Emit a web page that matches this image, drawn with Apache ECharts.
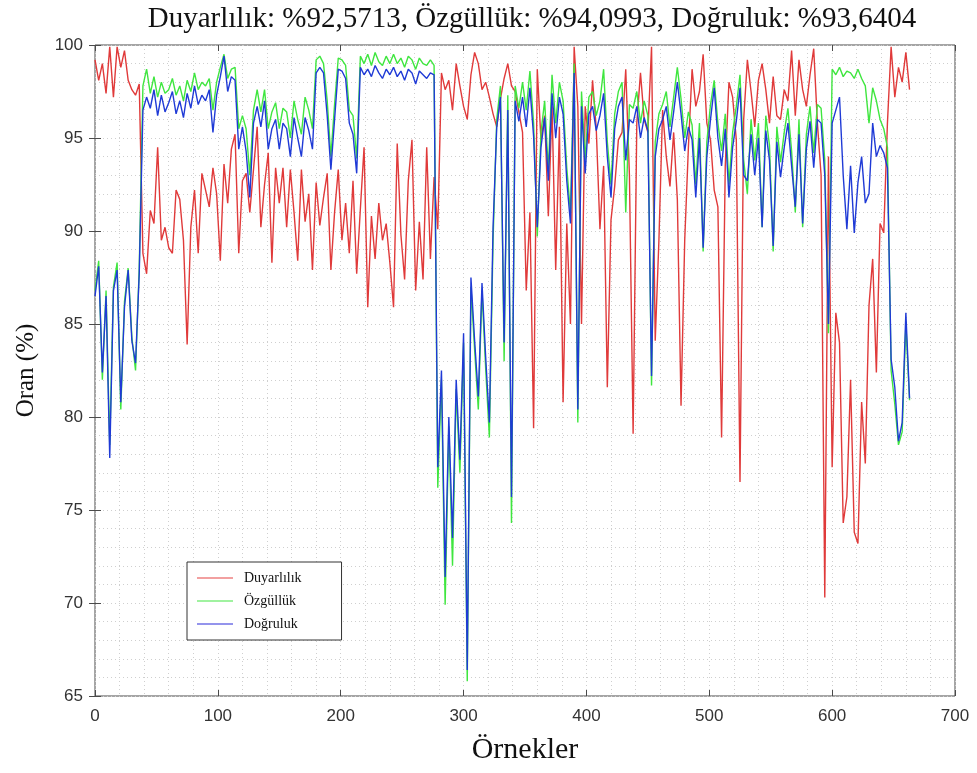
<!DOCTYPE html>
<html>
<head>
<meta charset="utf-8">
<script src="https://cdn.jsdelivr.net/npm/echarts@6/dist/echarts.min.js"></script>
<style>
  html, body { margin: 0; padding: 0; background: #fff; }
  #chart { width: 977px; height: 773px; }
</style>
</head>
<body>
<div id="chart"></div>
<script>
// Every third sample of the evaluation run (sample index = position * STEP)
const STEP = 3;

const seriesNames = ['Duyarlılık', 'Özgüllük', 'Doğruluk'];
const seriesColors = ['#e03a3a', '#3fe63f', '#1f3ad6'];
const legendColors = ['#ee8080', '#80ee80', '#7070e6'];

const xTickLabels = [0, 100, 200, 300, 400, 500, 600, 700];
const yTickLabels = [65, 70, 75, 80, 85, 90, 95, 100];

// Duyarlılık (%) per sample
const duyarlilik = [
  99.2, 98.1, 99.0, 97.4, 99.9, 97.2, 99.9, 98.8, 99.7, 98.1,
  97.6, 97.3, 97.9, 88.8, 87.7, 91.1, 90.4, 94.5, 89.5, 90.2,
  89.1, 88.8, 92.2, 91.7, 89.5, 83.9, 90.2, 92.2, 88.8, 93.1,
  92.2, 91.3, 93.4, 92.0, 88.4, 93.6, 91.5, 94.4, 95.2, 88.8,
  92.7, 93.1, 91.0, 93.3, 95.6, 90.2, 92.5, 94.2, 88.3, 93.4,
  91.5, 93.4, 90.2, 93.3, 91.0, 88.4, 93.3, 90.5, 92.0, 87.9,
  92.6, 90.3, 91.8, 93.1, 87.9, 91.0, 93.3, 89.5, 91.5, 88.8,
  92.7, 87.7, 91.2, 94.5, 85.9, 90.8, 88.5, 91.5, 89.5, 90.4,
  88.3, 85.9, 94.7, 89.8, 87.4, 92.7, 94.9, 86.8, 90.5, 87.4,
  94.5, 88.5, 92.9, 90.1, 98.5, 97.6, 98.1, 96.5, 99.0, 97.8,
  96.7, 96.0, 98.4, 99.6, 99.0, 97.6, 98.0, 97.2, 96.3, 95.6,
  97.1, 98.2, 99.0, 97.8, 97.5, 96.4, 95.3, 86.8, 91.0, 79.4,
  98.7, 94.9, 96.2, 90.8, 96.7, 87.9, 95.6, 80.8, 90.4, 85.0,
  99.9, 96.7, 85.0, 96.7, 94.7, 98.1, 95.5, 90.1, 93.5, 81.6,
  90.6, 92.4, 94.9, 95.3, 98.7, 93.0, 79.1, 95.8, 98.5, 96.0,
  95.3, 99.9, 84.1, 89.5, 96.5, 94.0, 92.4, 95.3, 91.7, 80.6,
  89.5, 94.5, 98.7, 96.7, 97.5, 99.5, 95.8, 94.9, 92.2, 91.3,
  78.9, 93.5, 98.0, 97.2, 94.9, 76.5, 96.0, 99.2, 97.5, 95.6,
  98.1, 99.0, 97.6, 95.8, 98.3, 96.2, 96.0, 97.6, 97.0, 99.7,
  96.2, 99.2, 97.6, 96.7, 98.4, 99.8, 95.8, 93.0, 70.3, 94.0,
  77.3, 85.6, 84.0, 74.3, 75.7, 82.0, 73.8, 73.2, 80.8, 77.5,
  86.0, 88.5, 82.4, 90.4, 89.9, 95.8, 99.9, 97.2, 98.8, 98.0,
  99.6, 97.6
];

// Özgüllük (%) per sample
const ozgulluk = [
  86.8, 88.4, 82.0, 86.8, 78.5, 87.0, 88.3, 80.4, 86.2, 88.0,
  84.3, 82.5, 88.0, 97.8, 98.7, 97.4, 98.3, 97.2, 98.0, 97.4,
  97.6, 98.2, 97.3, 97.8, 97.0, 98.1, 97.5, 98.5, 97.6, 98.0,
  97.8, 98.2, 96.5, 98.0, 98.8, 99.5, 98.2, 98.7, 98.8, 95.5,
  96.2, 95.5, 93.0, 96.5, 97.6, 96.4, 97.6, 95.5, 96.4, 96.9,
  95.5, 96.6, 96.4, 95.0, 97.0, 96.0, 95.2, 97.2, 96.5, 95.5,
  99.2, 99.4, 99.0, 97.0, 94.0, 96.8, 99.3, 99.2, 98.9, 96.5,
  96.2, 93.9, 99.4, 99.0, 99.5, 98.9, 99.6, 99.1, 98.9, 99.4,
  99.0, 99.5, 99.0, 99.3, 98.8, 99.4, 99.2, 98.7, 99.3, 99.0,
  98.9, 99.2, 98.9, 76.2, 82.0, 69.9, 79.5, 72.0, 81.5, 77.0,
  84.0, 65.8, 87.0, 83.6, 80.4, 86.8, 82.6, 78.9, 89.5, 96.0,
  97.8, 83.0, 97.3, 74.3, 97.8, 96.6, 98.0, 96.5, 98.6, 95.8,
  89.7, 95.3, 97.0, 93.2, 98.4, 95.8, 98.0, 97.0, 93.4, 91.0,
  99.0, 79.7, 97.5, 93.8, 97.2, 97.5, 96.2, 97.0, 98.7, 94.8,
  92.5, 96.3, 97.5, 98.0, 91.0, 96.8, 96.6, 97.5, 95.8, 97.0,
  96.2, 81.7, 94.8, 96.3, 96.8, 97.5, 95.6, 97.2, 98.8, 97.1,
  95.0, 96.4, 95.7, 92.5, 95.8, 88.9, 94.8, 96.8, 98.1, 95.8,
  94.3, 96.3, 92.5, 95.3, 96.7, 98.4, 93.8, 92.0, 96.0, 93.8,
  95.8, 90.2, 96.2, 94.6, 88.9, 95.6, 93.7, 95.3, 96.6, 94.3,
  91.0, 96.0, 90.2, 95.2, 96.7, 94.2, 96.8, 96.6, 93.8, 84.5,
  98.7, 98.4, 98.8, 98.3, 98.6, 98.5, 98.2, 98.7, 98.2, 97.8,
  95.8, 97.7, 97.0, 96.0, 95.5, 94.5, 82.5, 80.7, 78.5, 79.2,
  85.0, 80.9
];

// Doğruluk (%) per sample
const dogruluk = [
  86.5, 88.1, 82.4, 86.5, 77.8, 86.8, 87.9, 80.8, 85.9, 87.9,
  84.1, 82.9, 87.7, 96.5, 97.2, 96.6, 97.6, 96.2, 97.3, 96.4,
  96.9, 97.5, 96.3, 97.0, 96.1, 97.4, 96.6, 97.8, 96.8, 97.3,
  97.0, 97.6, 95.3, 97.3, 98.3, 99.4, 97.5, 98.3, 98.1, 94.4,
  95.6, 94.3, 91.8, 95.8, 96.7, 95.6, 97.0, 94.4, 95.5, 96.0,
  94.4, 95.8, 95.5, 94.0, 96.1, 95.0, 94.0, 96.1, 95.4, 94.4,
  98.5, 98.8, 98.5, 96.2, 93.3, 96.0, 98.7, 98.6, 98.2, 95.8,
  95.2, 93.1, 98.8, 98.4, 98.7, 98.3, 98.9, 98.5, 98.2, 98.7,
  98.4, 98.8, 98.3, 98.6, 98.1, 98.7, 98.5, 97.9, 98.6, 98.4,
  98.2, 98.5, 98.4, 77.3, 82.5, 71.4, 80.0, 73.5, 82.0, 77.7,
  84.5, 66.4, 87.5, 84.1, 81.1, 87.2, 83.2, 79.7, 90.2, 95.6,
  97.2, 84.0, 96.5, 75.7, 97.0, 95.9, 97.2, 95.6, 97.7, 95.1,
  90.2, 94.5, 96.1, 92.7, 97.4, 95.0, 97.2, 96.3, 92.7, 90.4,
  98.5, 80.4, 96.7, 93.1, 96.3, 96.7, 95.4, 96.2, 97.4, 94.0,
  91.8, 95.5, 96.7, 97.2, 93.8, 96.0, 95.8, 96.7, 95.0, 96.1,
  95.4, 82.2, 94.0, 95.5, 96.0, 96.7, 94.9, 96.4, 98.0, 96.3,
  94.3, 95.6, 94.9, 91.8, 95.0, 89.1, 94.0, 96.0, 97.7, 95.0,
  93.5, 95.5, 91.8, 94.5, 95.9, 97.7, 93.0, 92.7, 95.2, 93.0,
  95.0, 90.2, 95.4, 93.8, 89.2, 94.8, 92.9, 94.5, 95.8, 93.5,
  91.3, 95.2, 90.4, 94.4, 95.9, 93.4, 96.0, 95.8, 93.0, 85.0,
  95.8, 96.5, 97.2, 93.0, 90.1, 93.5, 89.9, 92.6, 94.0, 91.5,
  92.0, 95.8, 94.0, 94.6, 94.2, 93.4, 83.1, 81.6, 78.7, 79.7,
  85.6, 81.0
];

const titleText = 'Duyarlılık: %92,5713, Özgüllük: %94,0993, Doğruluk: %93,6404';

const toPoints = vals => vals.map((v, i) => [i * STEP, v]);
const values = [duyarlilik, ozgulluk, dogruluk];

const serif = 'Liberation Serif, Times New Roman, serif';
const sans = 'Liberation Sans, Arial, sans-serif';
const gridDots = { color: '#cfcfcf', width: 1, type: [1, 3] };
// thin horizontal bar used as the legend key
const legendLine = 'path://M0,0 L36,0 L36,1.6 L0,1.6 Z';

const xMin = xTickLabels[0], xMax = xTickLabels[xTickLabels.length - 1];
const yMin = yTickLabels[0], yMax = yTickLabels[yTickLabels.length - 1];
const xStep = xTickLabels[1] - xTickLabels[0];
const yStep = yTickLabels[1] - yTickLabels[0];

const chart = echarts.init(document.getElementById('chart'), null, { renderer: 'canvas' });

chart.setOption({
  animation: false,
  backgroundColor: '#fff',
  title: {
    text: titleText,
    left: 527,
    top: 0,
    textAlign: 'center',
    textStyle: { fontFamily: serif, fontSize: 29, fontWeight: 'normal', color: '#111' }
  },
  grid: {
    left: 95, right: 22, top: 45, bottom: 77,
    show: true, borderColor: '#4a4a4a', borderWidth: 1, backgroundColor: '#fff'
  },
  legend: {
    orient: 'vertical',
    left: 187,
    top: 562,
    padding: [9, 40, 9, 10],
    itemGap: 9,
    itemWidth: 36,
    itemHeight: 14,
    icon: legendLine,
    borderColor: '#333',
    borderWidth: 1,
    backgroundColor: '#fff',
    textStyle: { fontFamily: serif, fontSize: 14, color: '#111', padding: [0, 0, 0, 6] },
    data: seriesNames.map((name, k) => ({ name, itemStyle: { color: legendColors[k] } }))
  },
  xAxis: [{
    type: 'value', min: xMin, max: xMax, interval: xStep,
    name: 'Örnekler', nameLocation: 'middle', nameGap: 39,
    nameTextStyle: { fontFamily: serif, fontSize: 30, color: '#111' },
    axisLine: { show: false },
    axisTick: { inside: true, length: 6, lineStyle: { color: '#4a4a4a' } },
    axisLabel: { fontFamily: sans, fontSize: 17, color: '#333', margin: 12 },
    splitLine: { show: true, lineStyle: gridDots },
    minorTick: { show: true, splitNumber: 5, length: 0 },
    minorSplitLine: { show: true, lineStyle: gridDots }
  }, {
    type: 'value', position: 'top', min: xMin, max: xMax, interval: xStep,
    axisLine: { show: false },
    axisTick: { inside: true, length: 6, lineStyle: { color: '#4a4a4a' } },
    axisLabel: { show: false },
    splitLine: { show: false }
  }],
  yAxis: [{
    type: 'value', min: yMin, max: yMax, interval: yStep,
    name: 'Oran (%)', nameLocation: 'middle', nameGap: 56,
    nameTextStyle: { fontFamily: serif, fontSize: 25, color: '#111' },
    axisLine: { show: false },
    axisTick: { inside: true, length: 6, lineStyle: { color: '#4a4a4a' } },
    axisLabel: { fontFamily: sans, fontSize: 17, color: '#333', margin: 12 },
    splitLine: { show: true, lineStyle: gridDots },
    minorTick: { show: true, splitNumber: 5, length: 0 },
    minorSplitLine: { show: true, lineStyle: gridDots }
  }, {
    type: 'value', position: 'right', min: yMin, max: yMax, interval: yStep,
    axisLine: { show: false },
    axisTick: { inside: true, length: 6, lineStyle: { color: '#4a4a4a' } },
    axisLabel: { show: false },
    splitLine: { show: false }
  }],
  series: seriesNames.map((name, k) => ({
    name,
    type: 'line',
    xAxisIndex: 0,
    yAxisIndex: 0,
    symbol: 'none',
    color: seriesColors[k],
    lineStyle: { width: 1.4, color: seriesColors[k] },
    z: 2 + k,
    data: toPoints(values[k])
  }))
});
</script>
</body>
</html>
